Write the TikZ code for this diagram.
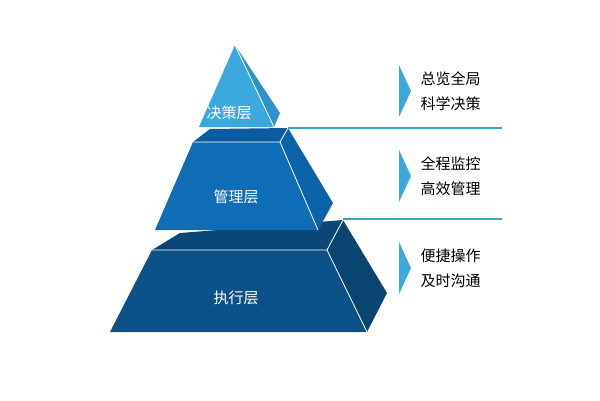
\documentclass[tikz,border=0pt]{standalone}
\usepackage{fontspec}
\newfontfamily\cjk{Noto Sans CJK SC}
\definecolor{topfront}{HTML}{3BA9DD}
\definecolor{topside}{HTML}{2E93CC}
\definecolor{midfront}{HTML}{0F6CB6}
\definecolor{midtop}{HTML}{0A5B9F}
\definecolor{midside}{HTML}{0C62A8}
\definecolor{lowfront}{HTML}{0C5288}
\definecolor{lowtop}{HTML}{0A4777}
\definecolor{lowside}{HTML}{0A4572}
\definecolor{rule}{HTML}{3AA2C2}
\begin{document}
\begin{tikzpicture}[x=1pt, y=-1pt, cjk/.style={font=\cjk\fontsize{15}{15}\selectfont},
  face/.style={draw=white, line width=0.8pt, line join=round}]
        \useasboundingbox (0,0) rectangle (600,400);
        % bottom block
        \fill[lowtop] (180,233) -- (343,220) -- (327,250) -- (152,250) -- cycle;
        \fill[lowside] (343,220) -- (387,293) -- (367,332) -- (327,250) -- cycle;
        \fill[lowfront] (152,250) -- (327,250) -- (367,332) -- (110,332) -- cycle;
        \draw[face] (152,250) -- (327,250) -- (367,332);
        \draw[face] (327,250) -- (343,220);
        % middle block
        \fill[midtop] (210,129) -- (288,128) -- (280,142) -- (193,142) -- cycle;
        \fill[midside] (288,128) -- (333,203) -- (318,230) -- (280,142) -- cycle;
        \fill[midfront] (193,142) -- (280,142) -- (318,230) -- (155,230) -- cycle;
        \draw[face] (193,142) -- (280,142) -- (318,230);
        \draw[face] (280,142) -- (288,128);
        % top block
        \fill[topside] (235,45) -- (280,113) -- (274,127) -- cycle;
        \fill[topfront] (235,45) -- (274,127) -- (199,127) -- cycle;
        \draw[face] (235,45) -- (274,127);

        \node[cjk, text=white] (top) at (229,113) {决策层};
        \node[cjk, text=white] (mid) at (236,197) {管理层};
        \node[cjk, text=white] (low) at (236,298) {执行层};

        \coordinate (r1) at (288,128);
        \coordinate (r2) at (343,219);
        \draw[rule, line width=1.2pt] (r1) -- (502,128);
        \draw[rule, line width=1.2pt] (r2) -- (502,219);

        \foreach \y/\a/\b in {91/总览全局/科学决策, 176/全程监控/高效管理, 268/便捷操作/及时沟通}{
          \fill[topfront] (399,\y-26) -- (411,\y) -- (399,\y+26) -- cycle;
          \node[cjk, anchor=west] at (417,\y-12) {\a};
          \node[cjk, anchor=west] at (417,\y+13) {\b};
        }
\end{tikzpicture}
\end{document}
